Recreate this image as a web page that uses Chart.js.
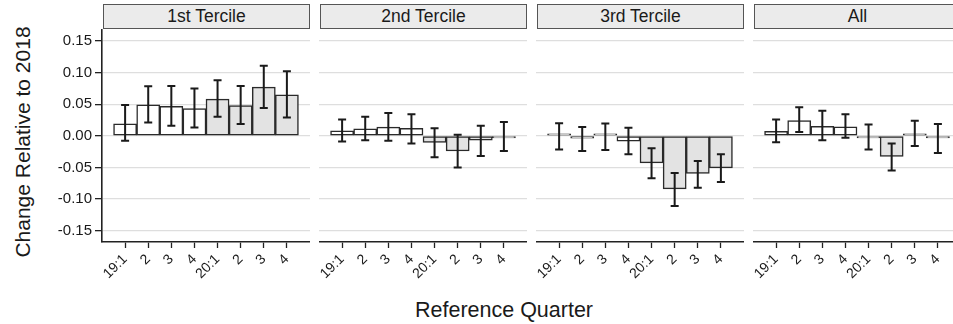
<!doctype html>
<html lang="en">
<head>
    <meta charset="utf-8">
    <title>Change Relative to 2018 by Tercile</title>
    <script src="https://cdn.jsdelivr.net/npm/chart.js"></script>
    <style>
        html, body { margin: 0; padding: 0; background: #fff; overflow: hidden; }
        body { width: 953px; height: 324px; position: relative; font-family: "Liberation Sans", Arial, sans-serif; color: #1a1a1a; }
        .panel { position: absolute; top: 29px; }
        .strip {
            position: absolute; top: 4px; height: 25px; box-sizing: border-box;
            border: 1px solid #555; background: #ebebeb;
            font-size: 17.5px; line-height: 23px; text-align: center;
        }
        .ytitle {
            position: absolute; left: 23px; top: 142px; width: 0; height: 0;
        }
        .ytitle span {
            position: absolute; white-space: nowrap; font-size: 21px; line-height: 24px;
            transform: translate(-50%, -50%) rotate(-90deg);
        }
        .xtitle {
            position: absolute; top: 298px; left: 304px; width: 400px; text-align: center;
            font-size: 21.5px; line-height: 24px;
        }
    </style>
</head>
<body>
    <div class="ytitle"><span>Change Relative to 2018</span></div>
    <div class="xtitle">Reference Quarter</div>

    <script>
        const quarters = ['19:1', '2', '3', '4', '20:1', '2', '3', '4'];
        const panelNames = ['1st Tercile', '2nd Tercile', '3rd Tercile', 'All'];
        // 2019 quarters are white, 2020 quarters are grey
        const shaded = [false, false, false, false, true, true, true, true];

        const tercile1 = [0.019, 0.049, 0.0465, 0.043, 0.058, 0.048, 0.077, 0.065];
        const tercile1Lo = [-0.008, 0.021, 0.016, 0.013, 0.030, 0.0185, 0.044, 0.029];
        const tercile1Hi = [0.0486, 0.0786, 0.079, 0.075, 0.088, 0.079, 0.111, 0.102];

        const tercile2 = [0.008, 0.011, 0.0138, 0.0117, -0.0105, -0.024, -0.0068, -0.001];
        const tercile2Lo = [-0.009, -0.007, -0.008, -0.012, -0.034, -0.050, -0.032, -0.024];
        const tercile2Hi = [0.026, 0.030, 0.036, 0.034, 0.012, 0.0016, 0.016, 0.022];

        const tercile3 = [0.001, -0.0036, 0.001, -0.0084, -0.0427, -0.084, -0.0595, -0.0506];
        const tercile3Lo = [-0.0215, -0.024, -0.0226, -0.029, -0.067, -0.111, -0.082, -0.073];
        const tercile3Hi = [0.020, 0.014, 0.0196, 0.0127, -0.0195, -0.059, -0.040, -0.029];

        const allFirms = [0.007, 0.024, 0.0149, 0.0142, -0.001, -0.0326, 0.003, -0.003];
        const allFirmsLo = [-0.010, 0.006, -0.007, -0.003, -0.0215, -0.055, -0.016, -0.027];
        const allFirmsHi = [0.026, 0.045, 0.0396, 0.034, 0.018, -0.012, 0.024, 0.0185];

        const yTicks = [-0.15, -0.10, -0.05, 0.00, 0.05, 0.10, 0.15];
        const yMin = -0.168, yMax = 0.169;

        const series = [
            [tercile1, tercile1Lo, tercile1Hi],
            [tercile2, tercile2Lo, tercile2Hi],
            [tercile3, tercile3Lo, tercile3Hi],
            [allFirms, allFirmsLo, allFirmsHi]
        ];

        Chart.defaults.font.family = '"Liberation Sans", Arial, sans-serif';
        Chart.defaults.color = '#1a1a1a';

        // empty slot on each side so the axis has one full step of room
        const pad = arr => [null, ...arr, null];

        const errorBars = {
            id: 'errorBars',
            afterDatasetsDraw(chart, args, opts) {
                const ctx = chart.ctx;
                const y = chart.scales.y;
                const meta = chart.getDatasetMeta(0);
                ctx.save();
                ctx.strokeStyle = '#1a1a1a';
                ctx.lineWidth = 2;
                opts.lo.forEach((lo, i) => {
                    if (lo === null) return;
                    const x = meta.data[i].x;
                    const y1 = y.getPixelForValue(lo);
                    const y2 = y.getPixelForValue(opts.hi[i]);
                    ctx.beginPath();
                    ctx.moveTo(x, y1); ctx.lineTo(x, y2);
                    ctx.moveTo(x - 4, y1); ctx.lineTo(x + 4, y1);
                    ctx.moveTo(x - 4, y2); ctx.lineTo(x + 4, y2);
                    ctx.stroke();
                });
                ctx.restore();
            }
        };

        const panelLeft = [102, 319, 536, 753];
        const panelWidth = 208;
        const axisWidth = 102;

        panelNames.forEach((name, p) => {
            const first = p === 0;
            const strip = document.createElement('div');
            strip.className = 'strip';
            strip.style.left = (panelLeft[p] + 1) + 'px';
            strip.style.width = (panelWidth - 1) + 'px';
            strip.textContent = name;
            document.body.appendChild(strip);

            const wrap = document.createElement('div');
            wrap.className = 'panel';
            const w = first ? panelWidth + axisWidth : panelWidth;
            wrap.style.left = (first ? 0 : panelLeft[p]) + 'px';
            const canvas = document.createElement('canvas');
            canvas.width = w; canvas.height = 271;
            wrap.appendChild(canvas);
            document.body.appendChild(wrap);

            const [vals, lo, hi] = series[p];

            new Chart(canvas, {
                type: 'bar',
                data: {
                    labels: ['', ...quarters, ''],
                    datasets: [{
                        data: pad(vals),
                        backgroundColor: pad(shaded.map(s => s ? '#e3e3e3' : '#ffffff')),
                        borderColor: '#2a2a2a',
                        borderWidth: 1.5,
                        borderSkipped: false,
                        minBarLength: 2,
                        categoryPercentage: 1,
                        barPercentage: 1
                    }]
                },
                options: {
                    responsive: false,
                    animation: false,
                    devicePixelRatio: 1,
                    layout: { padding: 0 },
                    plugins: {
                        legend: { display: false },
                        tooltip: { enabled: false },
                        errorBars: { lo: pad(lo), hi: pad(hi) }
                    },
                    scales: {
                        x: {
                            offset: false,
                            grid: {
                                offset: false,
                                drawOnChartArea: false,
                                tickLength: 6,
                                tickWidth: 1.3,
                                tickColor: c => (c.index === 0 || c.index === 9) ? 'rgba(0,0,0,0)' : '#222'
                            },
                            border: { display: true, color: '#222', width: 1.6 },
                            ticks: {
                                autoSkip: false,
                                minRotation: 45,
                                maxRotation: 45,
                                padding: 3,
                                color: '#1a1a1a',
                                font: { size: 14 }
                            },
                            afterFit(scale) {
                                scale.height = 58;
                                scale.paddingLeft = 0;
                                scale.paddingRight = 0;
                            }
                        },
                        y: {
                            min: yMin,
                            max: yMax,
                            afterBuildTicks(scale) {
                                scale.ticks = yTicks.map(v => ({ value: v }));
                            },
                            grid: {
                                color: '#dedede',
                                lineWidth: 1.3,
                                drawTicks: first,
                                tickLength: 7,
                                tickColor: '#222',
                                tickWidth: 1.3
                            },
                            border: { display: first, color: '#222', width: 1.6 },
                            ticks: {
                                display: first,
                                padding: 3,
                                color: '#1a1a1a',
                                font: { size: 15 },
                                callback: v => v.toFixed(2)
                            },
                            afterFit(scale) {
                                scale.width = first ? axisWidth : 0;
                                scale.paddingTop = 0;
                                scale.paddingBottom = 0;
                            }
                        }
                    }
                },
                plugins: [errorBars]
            });
        });
    </script>
</body>
</html>
